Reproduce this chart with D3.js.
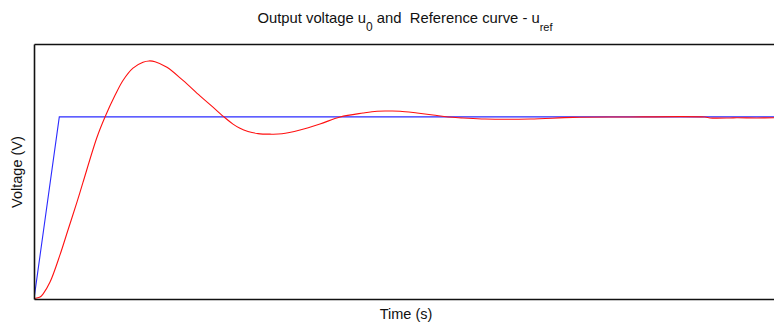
<!DOCTYPE html>
<html>
<head>
<meta charset="utf-8">
<script src="https://cdn.jsdelivr.net/npm/d3@7"></script>
<style>
  html, body { margin: 0; padding: 0; background: #fff; }
  svg { display: block; font-family: "Liberation Sans", Arial, sans-serif; }
  text { white-space: pre; }
</style>
</head>
<body>
<svg id="chart" width="774" height="322"></svg>
<script>
// Time samples (s) and output voltage u0 (V, normalised to the reference level)
const outputTime = [0, 0.000135, 0.00081, 0.00121, 0.00216, 0.0035, 0.00458, 0.0058, 0.0066, 0.00849,
  0.00957, 0.01092, 0.01199, 0.01334, 0.01469, 0.0155, 0.01631, 0.01792, 0.02008, 0.02237,
  0.02412, 0.02574, 0.02682, 0.02776, 0.02884, 0.03019, 0.0318, 0.03342, 0.03585, 0.03854,
  0.04124, 0.04434, 0.04623, 0.04798, 0.04933, 0.05162, 0.05377, 0.0558, 0.05782, 0.06078,
  0.06685, 0.07264, 0.07898, 0.09043, 0.0911, 0.0938, 0.0947, 0.0974, 0.1];
const outputVoltage = [0, 0.003, 0.011, 0.027, 0.093, 0.242, 0.379, 0.533, 0.64, 0.888,
  0.999, 1.118, 1.2, 1.268, 1.3, 1.307, 1.303, 1.272, 1.2, 1.115,
  1.053, 0.995, 0.96, 0.937, 0.92, 0.908, 0.905, 0.907, 0.928, 0.961,
  0.999, 1.021, 1.031, 1.032, 1.031, 1.021, 1.01, 0.999, 0.994, 0.988,
  0.988, 0.997, 0.999, 0.999, 0.994, 0.994, 0.995, 0.994, 0.995];

// Reference curve u_ref: linear ramp followed by a constant level
const refTime = [0, 0.00341, 0.1];
const refVoltage = [0, 1.0, 1.0];

const xDomain = [0, 0.1];
const yDomain = [0, 1.4];

const svg = d3.select("#chart");
const margin = { left: 34, top: 44, right: -2, bottom: 23 };
const W = 774, H = 322;
const plotW = W - margin.left - margin.right;
const plotH = H - margin.top - margin.bottom;

const x = d3.scaleLinear().domain(xDomain).range([0, plotW]);
const y = d3.scaleLinear().domain(yDomain).range([plotH, 0]);

const g = svg.append("g").attr("transform", `translate(${margin.left},${margin.top})`);

g.append("clipPath").attr("id", "plotClip")
  .append("rect").attr("x", 0).attr("y", 0).attr("width", plotW).attr("height", plotH);

const smoothLine = d3.line()
  .x(d => x(d[0]))
  .y(d => y(d[1]))
  .curve(d3.curveCatmullRom.alpha(0.5));

const lines = g.append("g").attr("clip-path", "url(#plotClip)");

lines.append("path")
  .datum(refTime.map((t, i) => [t, refVoltage[i]]))
  .attr("fill", "none")
  .attr("stroke", "#2b2bff")
  .attr("stroke-width", 1.1)
  .attr("d", d3.line().x(d => x(d[0])).y(d => y(d[1])));

lines.append("path")
  .datum(outputTime.map((t, i) => [t, outputVoltage[i]]))
  .attr("fill", "none")
  .attr("stroke", "#ff1010")
  .attr("stroke-width", 1.1)
  .attr("d", smoothLine);

// Axes without tick marks or labels, drawn as a frame
const xAxisBottom = d3.axisBottom(x).tickValues([]).tickSizeOuter(0);
const xAxisTop = d3.axisTop(x).tickValues([]).tickSizeOuter(0);
const yAxisLeft = d3.axisLeft(y).tickValues([]).tickSizeOuter(0);
const yAxisRight = d3.axisRight(y).tickValues([]).tickSizeOuter(0);

g.append("g").attr("transform", `translate(0,${plotH})`).call(xAxisBottom);
g.append("g").call(xAxisTop);
g.append("g").call(yAxisLeft);
g.append("g").attr("transform", `translate(${plotW},0)`).call(yAxisRight);
g.selectAll(".domain").attr("stroke", "#111").attr("stroke-width", 1.6);

// Title with subscripts
const title = svg.append("text")
  .attr("x", margin.left + plotW / 2)
  .attr("y", 23)
  .attr("text-anchor", "middle")
  .attr("font-size", 14.8)
  .attr("fill", "#111");
title.append("tspan").text("Output voltage u");
title.append("tspan").attr("dy", 8).attr("font-size", 12).text("0");
title.append("tspan").attr("dy", -8).text(" and  Reference curve - u");
title.append("tspan").attr("dy", 8).attr("font-size", 11).text("ref");

// Axis labels
svg.append("text")
  .attr("x", 406)
  .attr("y", 318.5)
  .attr("text-anchor", "middle")
  .attr("font-size", 14.5)
  .attr("fill", "#111")
  .text("Time (s)");

svg.append("text")
  .attr("transform", `translate(22,172) rotate(-90)`)
  .attr("text-anchor", "middle")
  .attr("font-size", 14.5)
  .attr("fill", "#111")
  .text("Voltage (V)");
</script>
</body>
</html>
